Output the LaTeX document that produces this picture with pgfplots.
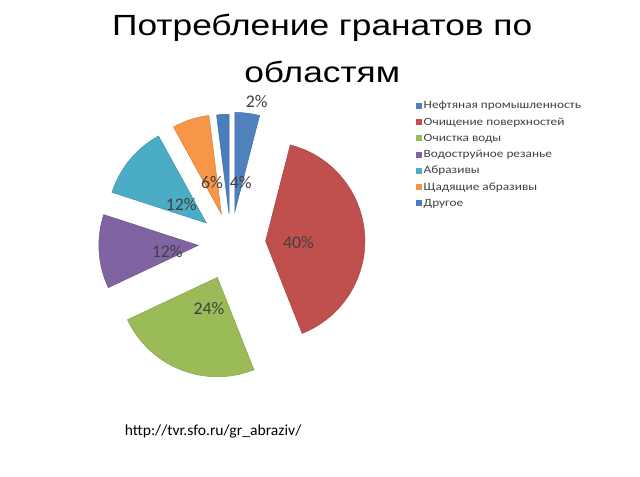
\documentclass[border=0pt]{standalone}
\usepackage{pgfplots}
\usepackage{pgfplotstable}
\pgfplotsset{compat=1.18}
\usepackage{fontspec}
\setmainfont{Carlito}
\newfontfamily\titlefont[FakeStretch=1.21]{Liberation Sans}
\newfontfamily\legfont[FakeStretch=1.2]{Carlito}
\newfontfamily\urlfont[FakeStretch=1.02]{Carlito}
\definecolor{c0}{HTML}{4F81BD}
\definecolor{c1}{HTML}{C0504D}
\definecolor{c2}{HTML}{9BBB59}
\definecolor{c3}{HTML}{8064A2}
\definecolor{c4}{HTML}{4BACC6}
\definecolor{c5}{HTML}{F79646}
\definecolor{c6}{HTML}{4A7EBB}
\definecolor{lbl}{HTML}{404040}
% value (percent), explode (px), label x, label y (px, from top)
\pgfplotstableread[col sep=comma]{
value,explode,lx,ly
4,32,238,184
40,35,296,244
24,37,206,311
12,33,164,253
12,32,178,206
6,31,209,184
2,30,254,102
}\piedata
\begin{document}
\xdef\cum{0}
\foreach \i in {0,...,6}{%
  \pgfplotstablegetelem{\i}{value}\of\piedata \let\v\pgfplotsretval
  \pgfplotstablegetelem{\i}{explode}\of\piedata \let\e\pgfplotsretval
  \pgfplotstablegetelem{\i}{lx}\of\piedata \let\lx\pgfplotsretval
  \pgfplotstablegetelem{\i}{ly}\of\piedata \let\ly\pgfplotsretval
  \pgfmathsetmacro\sa{90-\cum*3.6}%
  \pgfmathsetmacro\ea{90-(\cum+\v)*3.6}%
  \pgfmathsetmacro\ma{(\sa+\ea)/2}%
  \pgfmathsetmacro\vx{228+\e*cos(\ma)}%
  \pgfmathsetmacro\vy{235+\e*sin(\ma)}%
  \pgfmathsetmacro\lyy{480-\ly}%
  \expandafter\xdef\csname sa\i\endcsname{\sa}%
  \expandafter\xdef\csname ea\i\endcsname{\ea}%
  \expandafter\xdef\csname vx\i\endcsname{\vx}%
  \expandafter\xdef\csname vy\i\endcsname{\vy}%
  \expandafter\xdef\csname lx\i\endcsname{\lx}%
  \expandafter\xdef\csname ly\i\endcsname{\lyy}%
  \expandafter\xdef\csname pv\i\endcsname{\v}%
  \pgfmathsetmacro\newcum{\cum+\v}%
  \xdef\cum{\newcum}%
}
\begin{tikzpicture}
\begin{axis}[
  x=1bp, y=1bp, xmin=0, xmax=640, ymin=0, ymax=480,
  hide axis, clip=false,
  legend style={at={(axis cs:414,380)}, anchor=north west, draw=none, fill=none,
    font=\legfont\fontsize{11.2}{11.2}\selectfont, text=lbl,
    row sep=3.4bp, inner sep=0pt, cells={anchor=west}},
  legend image code/.code={\fill[#1, draw=none] (0bp,-3bp) rectangle (6bp,3bp);},
]
\path (axis cs:0,0) rectangle (axis cs:640,480);
\pgfplotsinvokeforeach{0,...,6}{%
  \fill[c#1, draw=c#1!85!black, line width=0.5bp]
    (axis cs:\csname vx#1\endcsname,\csname vy#1\endcsname)
    -- ++(\csname sa#1\endcsname:100bp)
    arc[start angle=\csname sa#1\endcsname, end angle=\csname ea#1\endcsname, radius=100bp]
    -- cycle;
}
\pgfplotsinvokeforeach{0,...,6}{%
  \node[text=lbl, font=\fontsize{18}{18}\selectfont] at (axis cs:\csname lx#1\endcsname,\csname ly#1\endcsname) {\csname pv#1\endcsname\%};
}
\addlegendimage{fill=c0}\addlegendentry{Нефтяная промышленность}
\addlegendimage{fill=c1}\addlegendentry{Очищение поверхностей}
\addlegendimage{fill=c2}\addlegendentry{Очистка воды}
\addlegendimage{fill=c3}\addlegendentry{Водоструйное резанье}
\addlegendimage{fill=c4}\addlegendentry{Абразивы}
\addlegendimage{fill=c5}\addlegendentry{Щадящие абразивы}
\addlegendimage{fill=c6}\addlegendentry{Другое}
\node[anchor=base, font=\titlefont\fontsize{29.5}{29.5}\selectfont] at (axis cs:320,444) {Потребление гранатов по};
\node[anchor=base, font=\titlefont\fontsize{29.5}{29.5}\selectfont] at (axis cs:320,397) {областям};
\node[anchor=west, inner sep=0pt, font=\urlfont\fontsize{15.5}{15.5}\selectfont] at (axis cs:121,45) {http://tvr.sfo.ru/gr\_abraziv/};
\end{axis}
\end{tikzpicture}
\end{document}
